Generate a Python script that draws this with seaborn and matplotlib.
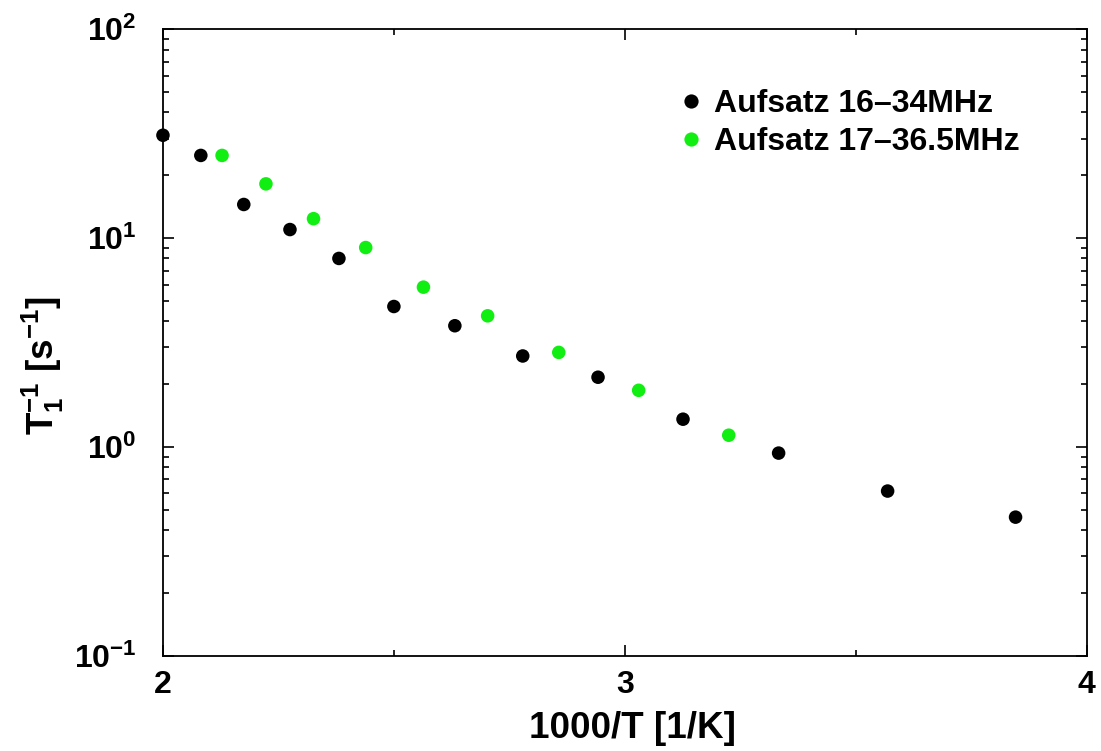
import numpy as np
import pandas as pd
import matplotlib
matplotlib.use("Agg")
import matplotlib.pyplot as plt
import seaborn as sns
from matplotlib.ticker import LogLocator, MultipleLocator

# data
inv_t_16_34 = [2.000, 2.082, 2.175, 2.275, 2.381, 2.500, 2.632, 2.779, 2.942, 3.126, 3.333, 3.569, 3.846]
rate_16_34 = [31.1, 24.9, 14.5, 11.0, 8.0, 4.71, 3.81, 2.73, 2.16, 1.36, 0.936, 0.616, 0.462]
inv_t_17_36 = [2.128, 2.223, 2.326, 2.439, 2.564, 2.703, 2.857, 3.030, 3.225]
rate_17_36 = [24.9, 18.2, 12.4, 9.02, 5.83, 4.25, 2.84, 1.87, 1.14]
labels = ['Aufsatz 16\u201334MHz', 'Aufsatz 17\u201336.5MHz']

df = pd.concat([
    pd.DataFrame({'x': inv_t_16_34, 'y': rate_16_34, 'serie': labels[0]}),
    pd.DataFrame({'x': inv_t_17_36, 'y': rate_17_36, 'serie': labels[1]}),
])

sns.set_style('ticks')
plt.rcParams['font.family'] = ['Liberation Sans', 'DejaVu Sans']
plt.rcParams['font.weight'] = 'bold'
plt.rcParams['text.color'] = 'black'
plt.rcParams['axes.labelcolor'] = 'black'
plt.rcParams['xtick.color'] = 'black'
plt.rcParams['ytick.color'] = 'black'
plt.rcParams['axes.edgecolor'] = 'black'
plt.rcParams['mathtext.fontset'] = 'custom'
plt.rcParams['mathtext.rm'] = 'Liberation Sans:bold'
plt.rcParams['mathtext.bf'] = 'Liberation Sans:bold'
plt.rcParams['mathtext.it'] = 'Liberation Sans:bold'

fig = plt.figure(figsize=(11.01, 7.51), dpi=100)
ax = fig.add_axes([0.148, 0.1265, 0.839, 0.8345])

sns.scatterplot(data=df, x='x', y='y', hue='serie', ax=ax,
                palette={labels[0]: 'black', labels[1]: '#11ee11'},
                s=95, linewidth=0, clip_on=False, zorder=3)

ax.set_yscale('log')
ax.set_xlim(2, 4)
ax.set_ylim(0.1, 100)
ax.xaxis.set_major_locator(MultipleLocator(1))
ax.xaxis.set_minor_locator(MultipleLocator(0.5))
ax.yaxis.set_major_locator(LogLocator(base=10, numticks=10))
ax.yaxis.set_minor_locator(LogLocator(base=10, subs=np.arange(2, 10), numticks=10))

ax.tick_params(which='both', direction='in', top=True, right=True, width=1.2)
ax.tick_params(which='major', length=8, labelsize=23)
ax.tick_params(axis='x', which='major', pad=10)
ax.tick_params(axis='y', which='major', pad=19)
ax.tick_params(which='minor', length=4.5)
for sp in ax.spines.values():
    sp.set_linewidth(1.3)

ax.set_xlabel('1000/T [1/K]', fontsize=26.5, fontweight='bold')
ax.xaxis.set_label_coords(0.508, -0.087)
ax.set_ylabel(r'T$_1^{-1}$ [s$^{-1}$]', fontsize=26.5, fontweight='bold')
ax.yaxis.set_label_coords(-0.105, 0.464)

leg = ax.legend(loc='upper right', bbox_to_anchor=(0.958, 0.95), frameon=False,
                fontsize=23, handlelength=1.0, handletextpad=0.2,
                labelspacing=0.25, markerscale=1.05)
for t in leg.get_texts():
    t.set_fontweight('bold')

fig.savefig('out.png', dpi=100)
